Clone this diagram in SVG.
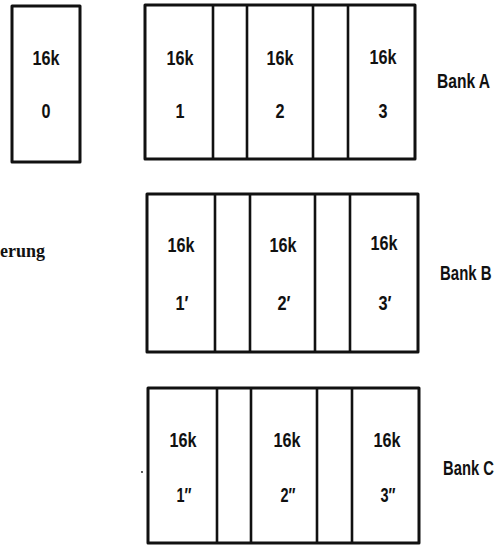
<svg xmlns="http://www.w3.org/2000/svg" width="499" height="546" viewBox="0 0 499 546">
<style>
.box{fill:#fff;stroke:#111;stroke-width:3;stroke-linejoin:round}
.div{stroke:#111;stroke-width:2.6;fill:none}
.t{font-family:"Liberation Sans",Arial,sans-serif;font-weight:bold;font-size:21px;fill:#111;text-anchor:middle}
.b{font-family:"Liberation Sans",Arial,sans-serif;font-weight:bold;font-size:20px;fill:#111}
.s{font-family:"Liberation Serif","Times New Roman",serif;font-weight:bold;font-size:18px;fill:#111}
</style>
<rect width="499" height="546" fill="#fff"/>
<g id="bank0">
<rect class="box" x="12" y="6" width="68" height="156"/>
<text class="t" x="46" y="65" textLength="27" lengthAdjust="spacingAndGlyphs">16k</text>
<text class="t" x="46" y="118" textLength="9" lengthAdjust="spacingAndGlyphs">0</text>
</g>
<g id="bankA">
<rect class="box" x="145" y="5" width="270" height="154"/>
<path class="div" d="M213 5V159M247 5V159M313 5V159M348 5V159"/>
<text class="t" x="180" y="65" textLength="27" lengthAdjust="spacingAndGlyphs">16k</text>
<text class="t" x="180" y="118" textLength="9" lengthAdjust="spacingAndGlyphs">1</text>
<text class="t" x="280" y="65" textLength="27" lengthAdjust="spacingAndGlyphs">16k</text>
<text class="t" x="280" y="118" textLength="9" lengthAdjust="spacingAndGlyphs">2</text>
<text class="t" x="383" y="64" textLength="27" lengthAdjust="spacingAndGlyphs">16k</text>
<text class="t" x="383" y="118" textLength="9" lengthAdjust="spacingAndGlyphs">3</text>
<text class="b" transform="translate(437,88) scale(0.78,1)">Bank A</text>
</g>
<g id="bankB">
<rect class="box" x="147" y="194" width="271" height="158"/>
<path class="div" d="M215 194V352M250 194V352M315 194V352M350 194V352"/>
<text class="t" x="181" y="252" textLength="27" lengthAdjust="spacingAndGlyphs">16k</text>
<text class="t" x="182" y="310" textLength="13" lengthAdjust="spacingAndGlyphs">1′</text>
<text class="t" x="283" y="252" textLength="27" lengthAdjust="spacingAndGlyphs">16k</text>
<text class="t" x="284" y="310" textLength="13" lengthAdjust="spacingAndGlyphs">2′</text>
<text class="t" x="384" y="250" textLength="27" lengthAdjust="spacingAndGlyphs">16k</text>
<text class="t" x="385" y="310" textLength="13" lengthAdjust="spacingAndGlyphs">3′</text>
<text class="b" transform="translate(440,280) scale(0.75,1)">Bank B</text>
</g>
<g id="bankC">
<rect class="box" x="148" y="388" width="271" height="155"/>
<path class="div" d="M217 388V543M251 388V543M317 388V543M352 388V543"/>
<text class="t" x="183" y="447" textLength="27" lengthAdjust="spacingAndGlyphs">16k</text>
<text class="t" x="184" y="502" textLength="15" lengthAdjust="spacingAndGlyphs">1″</text>
<text class="t" x="287" y="447" textLength="27" lengthAdjust="spacingAndGlyphs">16k</text>
<text class="t" x="288" y="502" textLength="15" lengthAdjust="spacingAndGlyphs">2″</text>
<text class="t" x="387" y="447" textLength="27" lengthAdjust="spacingAndGlyphs">16k</text>
<text class="t" x="388" y="502" textLength="15" lengthAdjust="spacingAndGlyphs">3″</text>
<text class="b" transform="translate(443,475) scale(0.74,1)">Bank C</text>
</g>
<g id="label">
<text class="s" x="45" y="257" text-anchor="end">erung</text>
<circle cx="142" cy="472" r="0.9" fill="#111"/>
</g>
<g id="connectors"></g>
</svg>
